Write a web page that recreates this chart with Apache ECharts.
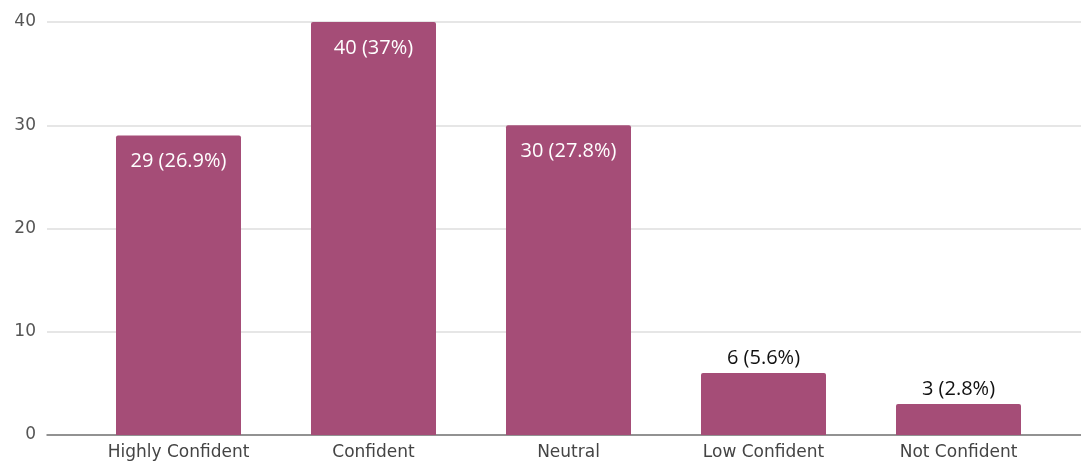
<!DOCTYPE html>
<html>
<head>
<meta charset="utf-8">
<script src="https://cdn.jsdelivr.net/npm/echarts@6/dist/echarts.min.js"></script>
<style>
  html, body { margin: 0; padding: 0; background: #ffffff; }
  #chart { width: 1081px; height: 461px; }
</style>
</head>
<body>
<div id="chart"></div>
<script>
// Survey responses: confidence level
const categories = ['Highly Confident', 'Confident', 'Neutral', 'Low Confident', 'Not Confident'];
const counts = [29, 40, 30, 6, 3];
const percents = ['26.9%', '37%', '27.8%', '5.6%', '2.8%'];
const yTicks = [0, 10, 20, 30, 40];

const barColor = '#a54d77';
const gridTop = 22, gridBottom = 26;

// Tall bars carry their label inside in white, short bars above in black
const seriesData = counts.map((v, i) => {
  const inside = v >= 10;
  return {
    value: v,
    label: {
      show: true,
      position: inside ? 'insideTop' : 'top',
      distance: inside ? 16 : 5,
      color: inside ? '#ffffff' : '#111111',
      fontFamily: 'Open Sans',
      fontSize: 20,
      formatter: () => v + ' (' + percents[i] + ')'
    }
  };
});

const chart = echarts.init(document.getElementById('chart'), null, { renderer: 'canvas' });
chart.setOption({
  animation: false,
  backgroundColor: '#ffffff',
  grid: [
    { left: 47, right: 0, top: gridTop, bottom: gridBottom },
    { left: 81, width: 975, top: gridTop, bottom: gridBottom }
  ],
  xAxis: [
    {
      gridIndex: 0, type: 'value', min: 0, max: 1,
      axisLine: { show: true, lineStyle: { color: '#777777', width: 1.5 } },
      axisTick: { show: false }, axisLabel: { show: false }, splitLine: { show: false }
    },
    {
      gridIndex: 1, type: 'category', data: categories,
      axisLine: { show: false }, axisTick: { show: false },
      axisLabel: {
        color: '#444444', fontFamily: 'DejaVu Sans', fontSize: 17, margin: 9
      }
    }
  ],
  yAxis: [
    {
      gridIndex: 0, type: 'value', min: yTicks[0], max: yTicks[yTicks.length - 1], interval: 10,
      axisLine: { show: false }, axisTick: { show: false },
      axisLabel: {
        color: '#555555', fontFamily: 'DejaVu Sans', fontSize: 17, margin: 11
      },
      splitLine: { lineStyle: { color: '#dedede', width: 1.5 } }
    },
    {
      gridIndex: 1, type: 'value', min: yTicks[0], max: yTicks[yTicks.length - 1],
      show: false, splitLine: { show: false }
    }
  ],
  series: [
    {
      type: 'bar',
      xAxisIndex: 1, yAxisIndex: 1,
      data: seriesData,
      barWidth: 125,
      itemStyle: { color: barColor, borderRadius: [2, 2, 0, 0] }
    }
  ]
});
</script>
</body>
</html>
